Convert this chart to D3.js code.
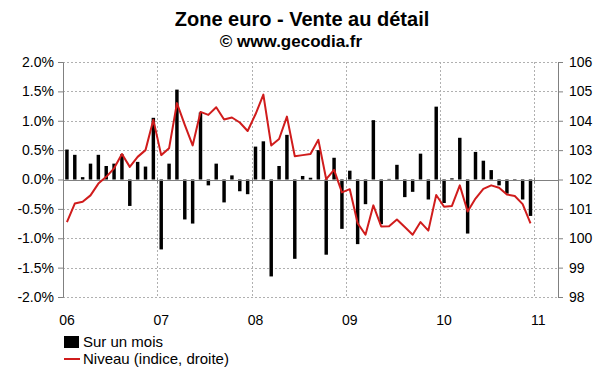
<!DOCTYPE html>
<html>
<head>
<meta charset="utf-8">
<script src="https://cdn.jsdelivr.net/npm/d3@7"></script>
<style>
  body { margin: 0; background: #fff; }
  svg text { font-family: "Liberation Sans", Arial, sans-serif; }
</style>
</head>
<body>
<div id="chart"></div>
<script>
// Zone euro retail sales, monthly change (%) and level (index, right axis)
const years = ["06", "07", "08", "09", "10", "11"];
const monthsIn2011 = 3; // empty slots after the last data point

const monthly = [
  0.51, 0.42, 0.04, 0.27, 0.42, 0.23, 0.27, 0.43, -0.45, 0.30, 0.22, 1.05,
  -1.19, 0.27, 1.53, -0.68, -0.75, 1.14, -0.10, 0.27, -0.39, 0.07, -0.20, -0.25,
  0.56, 0.65, -1.65, 0.23, 0.76, -1.35, 0.06, 0.03, 0.50, -1.28, 0.37, -0.84,
  0.15, -1.10, -0.42, 1.01, -0.76, 0.01, 0.25, -0.30, -0.21, 0.44, -0.34, 1.24,
  -0.40, 0.02, 0.71, -0.92, 0.47, 0.32, 0.16, -0.10, -0.24, -0.01, -0.34, -0.62
];

const level = [
  100.55, 101.18, 101.24, 101.46, 101.86, 102.09, 102.38, 102.87, 102.43, 102.77, 103.00, 104.03,
  102.83, 103.06, 104.60, 103.86, 103.16, 104.30, 104.20, 104.46, 104.04, 104.11, 103.94, 103.65,
  104.22, 104.89, 103.16, 103.38, 104.14, 102.79, 102.83, 102.87, 103.35, 102.01, 102.33, 101.56,
  101.67, 100.51, 100.12, 101.12, 100.40, 100.41, 100.64, 100.38, 100.12, 100.55, 100.26, 101.47,
  101.07, 101.10, 101.80, 100.91, 101.35, 101.68, 101.80, 101.72, 101.49, 101.44, 101.16, 100.51
];

const leftTicks = [-2, -1.5, -1, -0.5, 0, 0.5, 1, 1.5, 2];
const rightTicks = [98, 99, 100, 101, 102, 103, 104, 105, 106];

// category keys "06-01" ... "11-03"
const categories = [];
years.forEach((y, i) => {
  const n = i < years.length - 1 ? 12 : monthsIn2011;
  for (let m = 1; m <= n; m++) categories.push(y + "-" + String(m).padStart(2, "0"));
});

const width = 600, height = 372;
const margin = { top: 62, right: 42, bottom: 75, left: 63 };
const plotW = width - margin.left - margin.right;
const plotH = height - margin.top - margin.bottom;

const svg = d3.select("#chart").append("svg")
  .attr("width", width)
  .attr("height", height);

// titles
svg.append("text")
  .attr("x", 302).attr("y", 26)
  .attr("text-anchor", "middle")
  .style("font-size", "20px").style("font-weight", "bold")
  .text("Zone euro - Vente au détail");
svg.append("text")
  .attr("x", 291).attr("y", 47)
  .attr("text-anchor", "middle")
  .style("font-size", "17px").style("font-weight", "bold")
  .text("© www.gecodia.fr");

const g = svg.append("g").attr("transform", `translate(${margin.left},${margin.top})`);

const x = d3.scaleBand().domain(categories).range([0, plotW]);
const yL = d3.scaleLinear().domain([-2, 2]).range([plotH, 0]);
const yR = d3.scaleLinear().domain([98, 106]).range([plotH, 0]);

// horizontal dotted grid
g.append("g").selectAll("line")
  .data(leftTicks.filter(d => d !== 0))
  .enter().append("line")
  .attr("x1", 0).attr("x2", plotW)
  .attr("y1", d => Math.round(yL(d)) + 0.5).attr("y2", d => Math.round(yL(d)) + 0.5)
  .attr("stroke", "#b0b0b0").attr("stroke-dasharray", "2,2");

// vertical dotted grid at each new year
g.append("g").selectAll("line")
  .data(years.slice(1))
  .enter().append("line")
  .attr("x1", d => Math.round(x(d + "-01")) + 0.5).attr("x2", d => Math.round(x(d + "-01")) + 0.5)
  .attr("y1", 0).attr("y2", plotH)
  .attr("stroke", "#b0b0b0").attr("stroke-dasharray", "2,2");

// bars
const barW = x.bandwidth() * 0.44;
g.append("g").selectAll("rect")
  .data(monthly)
  .enter().append("rect")
  .attr("x", (d, i) => x(categories[i]) + (x.bandwidth() - barW) / 2)
  .attr("y", d => yL(Math.max(0, d)))
  .attr("width", barW)
  .attr("height", d => Math.abs(yL(d) - yL(0)))
  .attr("fill", "#000");

// zero line with year ticks
const y0 = Math.round(yL(0)) + 0.5;
g.append("line")
  .attr("x1", 0).attr("x2", plotW)
  .attr("y1", y0).attr("y2", y0)
  .attr("stroke", "#808080");
g.append("g").selectAll("line")
  .data(years)
  .enter().append("line")
  .attr("x1", d => Math.round(x(d + "-01")) + 0.5).attr("x2", d => Math.round(x(d + "-01")) + 0.5)
  .attr("y1", y0 - 3).attr("y2", y0 + 3)
  .attr("stroke", "#808080");

// level line
const line = d3.line()
  .x((d, i) => x(categories[i]) + x.bandwidth() / 2)
  .y(d => yR(d));
g.append("path")
  .datum(level)
  .attr("d", line)
  .attr("fill", "none")
  .attr("stroke", "#d01c1c")
  .attr("stroke-width", 2)
  .attr("stroke-linejoin", "round");

// axes
const leftAxis = g.append("g")
  .call(d3.axisLeft(yL).tickValues(leftTicks).tickSize(5).tickPadding(4)
    .tickFormat(d => d.toFixed(1) + "%"));
const rightAxis = g.append("g")
  .attr("transform", `translate(${plotW},0)`)
  .call(d3.axisRight(yR).tickValues(rightTicks).tickSize(5).tickPadding(6)
    .tickFormat(d3.format("d")));
[leftAxis, rightAxis].forEach(a => {
  a.select(".domain").attr("stroke", "#808080");
  a.selectAll(".tick line").attr("stroke", "#808080");
  a.selectAll("text").style("font-size", "14px").attr("fill", "#000")
    .style("font-family", "'Liberation Sans', Arial, sans-serif");
});

// year labels
g.append("g").selectAll("text")
  .data(years)
  .enter().append("text")
  .attr("x", d => x(d + "-01") + x.bandwidth() / 2)
  .attr("y", plotH + 28)
  .attr("text-anchor", "middle")
  .style("font-size", "14px")
  .text(d => d);

// legend
const lg = svg.append("g").attr("transform", "translate(64,335)");
lg.append("rect").attr("x", 0).attr("y", 1).attr("width", 15).attr("height", 12).attr("fill", "#000");
lg.append("text").attr("x", 19).attr("y", 12).style("font-size", "15px").text("Sur un mois");
lg.append("line").attr("x1", 0).attr("x2", 16).attr("y1", 24).attr("y2", 24)
  .attr("stroke", "#d01c1c").attr("stroke-width", 2);
lg.append("text").attr("x", 19).attr("y", 29).style("font-size", "15px").text("Niveau (indice, droite)");
</script>
</body>
</html>
